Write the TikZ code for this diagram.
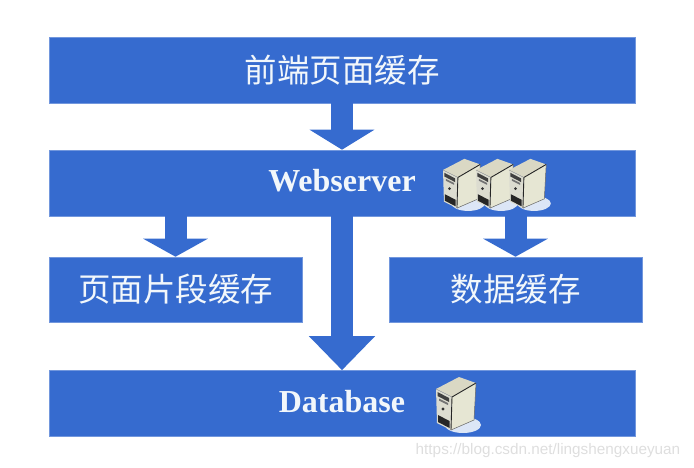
\documentclass[tikz,border=0pt]{standalone}
\usepackage{fontspec}
\setmainfont{Liberation Serif}
\newfontfamily\cjk{Noto Sans CJK SC}
\newfontfamily\urlfont{Liberation Sans}
\usetikzlibrary{arrows.meta}
\definecolor{panelblue}{HTML}{366BCF}
\definecolor{panelword}{HTML}{F2F7FB}
\definecolor{caseside}{HTML}{E6E6D3}
\definecolor{casefront}{HTML}{DCDCD0}
\definecolor{casetop}{HTML}{DAD8C4}
\definecolor{casebase}{HTML}{DCE6F6}
\tikzset{
  panel/.style={fill=panelblue,draw=panelblue!70!white,line width=.6pt,inner sep=0pt,text=panelword},
  widepanel/.style={panel,minimum width=586pt,minimum height=66pt},
  sidepanel/.style={panel,minimum width=253pt,minimum height=65pt},
  cjklabel/.style={font=\cjk\fontsize{32.5}{36}\selectfont},
  latinlabel/.style={font=\bfseries\fontsize{32}{36}\selectfont},
  flow/.style={draw=panelblue,line width=22pt,
    -{Triangle[length=#1,width=64pt,sep=0pt]}},
  pics/server/.style={code={
    % pedestal
    \fill[casebase] (27,36) ellipse[x radius=18,y radius=8];
    % top, front and side faces of the case
    \fill[casetop] (0,0) -- (23,-12) -- (40,-6) -- (16,8) -- cycle;
    \fill[casefront] (0,0) -- (16,8) -- (15,41) -- (1,34) -- cycle;
    \fill[caseside] (16,8) -- (40,-6) -- (38,31) -- (15,41) -- cycle;
    % drive bays, power button and vent on the front
    \fill[black!75] (1.5,3) -- (13,9) -- (13,13) -- (1.5,7) -- cycle;
    \fill[black!55] (3,9.5) -- (12,14) -- (12,16) -- (3,11.5) -- cycle;
    \fill[black!80] (7,20) circle[radius=1.6];
    \fill[black!85] (2,26) -- (13.5,32) -- (13.5,39) -- (2,33) -- cycle;
    % case edges
    \draw[black!85,line width=.9pt] (40,-6) -- (16,8) -- (15,41);
    \draw[black!60,line width=.5pt] (15,41) -- (38,31) -- (40,-6);
    \draw[black!45,line width=.4pt] (0,0) -- (16,8);
  }}
}
\begin{document}
\begin{tikzpicture}[x=1pt,y=-1pt]
\useasboundingbox (0,0) rectangle (694,467);
% panels
\node[widepanel,cjklabel] (front) at (342,70) {前端页面缓存};
\node[widepanel] (web) at (342,183) {};
\node[sidepanel,cjklabel] (page) at (175.5,289.5) {页面片段缓存};
\node[sidepanel,cjklabel] (data) at (515.5,289.5) {数据缓存};
\node[widepanel] (db) at (342,403.5) {};
% panel titles
\node[latinlabel,text=panelword,inner sep=0pt] (webtitle) at (342,181) {Webserver};
\node[latinlabel,text=panelword,inner sep=0pt] (dbtitle) at (342,402) {Database};
% flows between layers
\draw[flow=20pt] (front.south) -- (web.north);
\draw[flow=18pt] (page.north |- web.south) -- (page.north);
\draw[flow=18pt] (data.north |- web.south) -- (data.north);
\draw[flow=34pt] (web.south) -- (db.north);
% server icons
\pic[scale=.93] at (443,170) {server};
\pic[scale=.93] at (476,170) {server};
\pic[scale=.93] at (509,170) {server};
\pic at (436,389) {server};
% link line beneath the database panel
\node[font=\urlfont\fontsize{15.3}{18}\selectfont,text=black!13,inner sep=0pt] (link) at (548,451) {https://blog.csdn.net/lingshengxueyuan};
\end{tikzpicture}
\end{document}
